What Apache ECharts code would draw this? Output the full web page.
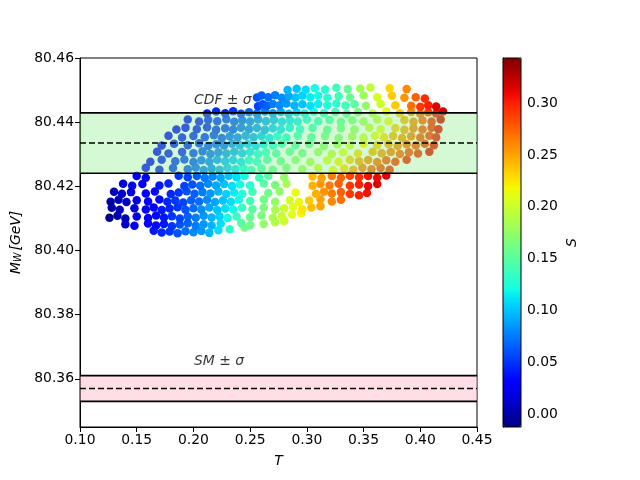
<!DOCTYPE html>
<html lang="en">
<head>
    <meta charset="UTF-8">
    <title>MW vs T</title>
    <script src="https://cdn.jsdelivr.net/npm/echarts@6/dist/echarts.min.js"></script>
    <style>
        html, body { margin: 0; padding: 0; background: #fff; }
        #main { width: 640px; height: 480px; }
    </style>
</head>
<body>
<div id="main"></div>
<script>
// points, row by row from the bottom of the cloud
var tValues = [
    0.165,0.172,0.179,0.186,0.193,0.200,0.207,0.214,0.222,0.232,0.245,
    0.140,0.148,0.160,0.167,0.174,0.181,0.188,0.195,0.202,0.209,0.216,0.224,0.242,0.250,0.262,0.272,0.280,
    0.126,0.133,0.140,0.150,0.160,0.167,0.174,0.181,0.188,0.195,0.202,0.209,0.216,0.223,0.230,0.238,0.250,0.260,0.270,0.278,0.287,0.295,
    0.128,0.135,0.148,0.158,0.165,0.172,0.179,0.186,0.193,0.200,0.207,0.214,0.221,0.228,0.235,0.243,0.252,0.262,0.272,0.280,0.288,0.296,0.304,0.312,
    0.127,0.134,0.141,0.150,0.160,0.170,0.177,0.184,0.191,0.198,0.205,0.212,0.219,0.226,0.233,0.240,0.250,0.262,0.272,0.285,0.293,0.302,0.312,0.322,0.330,
    0.130,0.137,0.145,0.158,0.166,0.180,0.187,0.194,0.201,0.208,0.215,0.222,0.229,0.236,0.243,0.252,0.266,0.276,0.290,0.308,0.315,0.322,0.330,0.338,0.346,0.353,
    0.138,0.146,0.155,0.170,0.178,0.192,0.199,0.206,0.213,0.220,0.227,0.234,0.241,0.250,0.262,0.272,0.282,0.305,0.312,0.320,0.328,0.338,0.346,0.354,0.362,
    0.150,0.158,0.187,0.195,0.203,0.210,0.217,0.224,0.231,0.238,0.245,0.258,0.266,0.280,0.305,0.313,0.322,0.330,0.338,0.346,0.354,0.362,0.370,
    0.158,0.170,0.182,0.195,0.202,0.209,0.216,0.223,0.230,0.237,0.244,0.251,0.260,0.270,0.282,0.296,0.310,0.323,0.333,0.341,0.349,0.357,0.365,0.373,
    0.162,0.172,0.184,0.192,0.200,0.207,0.214,0.221,0.228,0.235,0.242,0.249,0.256,0.265,0.277,0.290,0.303,0.318,0.328,0.338,0.346,0.354,0.362,0.370,0.378,0.388,
    0.168,0.178,0.190,0.200,0.208,0.215,0.222,0.229,0.236,0.243,0.250,0.257,0.264,0.273,0.285,0.296,0.310,0.322,0.332,0.345,0.358,0.366,0.374,0.382,0.390,0.398,0.408,
    0.172,0.183,0.195,0.205,0.213,0.220,0.227,0.234,0.241,0.248,0.255,0.262,0.270,0.278,0.290,0.302,0.315,0.327,0.338,0.350,0.362,0.372,0.380,0.388,0.396,0.404,0.412,
    0.178,0.190,0.200,0.210,0.218,0.225,0.232,0.239,0.246,0.253,0.260,0.267,0.274,0.282,0.292,0.304,0.316,0.328,0.340,0.350,0.360,0.368,0.376,0.384,0.392,0.400,0.408,0.414,
    0.185,0.193,0.203,0.212,0.220,0.228,0.235,0.242,0.249,0.256,0.263,0.270,0.277,0.285,0.294,0.305,0.318,0.330,0.342,0.355,0.365,0.378,0.386,0.394,0.402,0.410,0.416,
    0.195,0.205,0.213,0.221,0.229,0.236,0.243,0.250,0.257,0.264,0.271,0.278,0.285,0.292,0.300,0.310,0.320,0.330,0.340,0.350,0.362,0.372,0.386,0.394,0.402,0.410,0.418,
    0.212,0.220,0.228,0.235,0.242,0.249,0.256,0.263,0.270,0.277,0.284,0.291,0.298,0.306,0.315,0.325,0.335,0.345,0.358,0.370,0.382,0.392,0.400,0.407,0.414,0.420,
    0.257,0.261,0.265,0.270,0.276,0.282,0.289,0.296,0.303,0.310,0.318,0.326,0.334,0.342,0.352,0.365,0.378,0.392,0.400,0.407,0.414,
    0.256,0.260,0.266,0.272,0.278,0.284,0.290,0.296,0.303,0.310,0.318,0.328,0.338,0.350,0.362,0.375,0.386,0.396,0.404,
    0.283,0.291,0.299,0.307,0.316,0.326,0.336,0.347,0.356,0.373,0.388
];
var mwValues = [
    80.4062,80.4056,80.4059,80.4054,80.4060,80.4057,80.4061,80.4055,80.4063,80.4066,80.4072,
    80.4082,80.4077,80.4084,80.4078,80.4083,80.4076,80.4081,80.4085,80.4077,80.4082,80.4078,80.4084,80.4086,80.4079,80.4083,80.4088,80.4092,
    80.4102,80.4108,80.4100,80.4106,80.4101,80.4109,80.4103,80.4107,80.4100,80.4106,80.4102,80.4108,80.4103,80.4107,80.4101,80.4106,80.4104,80.4109,80.4102,80.4107,80.4112,80.4116,
    80.4133,80.4127,80.4132,80.4128,80.4134,80.4126,80.4131,80.4135,80.4127,80.4132,80.4128,80.4134,80.4126,80.4131,80.4128,80.4133,80.4129,80.4134,80.4127,80.4132,80.4136,80.4129,80.4134,80.4138,
    80.4152,80.4158,80.4151,80.4157,80.4153,80.4159,80.4152,80.4156,80.4150,80.4157,80.4153,80.4158,80.4151,80.4156,80.4152,80.4158,80.4154,80.4159,80.4152,80.4157,80.4151,80.4156,80.4160,80.4153,80.4158,
    80.4183,80.4177,80.4182,80.4178,80.4184,80.4176,80.4181,80.4185,80.4177,80.4182,80.4178,80.4184,80.4176,80.4181,80.4177,80.4183,80.4179,80.4184,80.4181,80.4177,80.4183,80.4178,80.4182,80.4176,80.4172,80.4179,
    80.4208,80.4202,80.4207,80.4203,80.4209,80.4201,80.4206,80.4202,80.4208,80.4203,80.4207,80.4201,80.4206,80.4203,80.4209,80.4204,80.4208,80.4202,80.4207,80.4203,80.4208,80.4202,80.4206,80.4201,80.4207,
    80.4232,80.4227,80.4233,80.4228,80.4232,80.4226,80.4231,80.4227,80.4233,80.4228,80.4232,80.4227,80.4233,80.4228,80.4231,80.4226,80.4232,80.4227,80.4233,80.4228,80.4232,80.4227,80.4234,
    80.4258,80.4252,80.4257,80.4253,80.4259,80.4251,80.4256,80.4252,80.4258,80.4253,80.4257,80.4251,80.4256,80.4252,80.4258,80.4253,80.4257,80.4251,80.4256,80.4252,80.4258,80.4253,80.4257,80.4252,
    80.4277,80.4283,80.4278,80.4284,80.4276,80.4281,80.4277,80.4283,80.4278,80.4282,80.4276,80.4281,80.4277,80.4283,80.4278,80.4282,80.4276,80.4281,80.4277,80.4283,80.4278,80.4282,80.4276,80.4281,80.4277,80.4283,
    80.4308,80.4302,80.4307,80.4303,80.4309,80.4301,80.4306,80.4302,80.4308,80.4303,80.4307,80.4301,80.4306,80.4302,80.4308,80.4303,80.4307,80.4301,80.4306,80.4302,80.4308,80.4303,80.4307,80.4301,80.4306,80.4302,80.4308,
    80.4327,80.4333,80.4328,80.4334,80.4326,80.4331,80.4327,80.4333,80.4328,80.4332,80.4326,80.4331,80.4327,80.4333,80.4328,80.4332,80.4326,80.4331,80.4327,80.4333,80.4328,80.4332,80.4326,80.4331,80.4327,80.4333,80.4328,
    80.4358,80.4352,80.4357,80.4353,80.4359,80.4351,80.4356,80.4352,80.4358,80.4353,80.4357,80.4351,80.4356,80.4352,80.4358,80.4353,80.4357,80.4351,80.4356,80.4352,80.4358,80.4353,80.4357,80.4351,80.4356,80.4352,80.4358,80.4353,
    80.4377,80.4383,80.4378,80.4384,80.4376,80.4381,80.4377,80.4383,80.4378,80.4382,80.4376,80.4381,80.4377,80.4383,80.4378,80.4382,80.4376,80.4381,80.4377,80.4383,80.4378,80.4382,80.4376,80.4381,80.4377,80.4383,80.4378,
    80.4408,80.4402,80.4407,80.4403,80.4409,80.4401,80.4406,80.4402,80.4408,80.4403,80.4407,80.4401,80.4406,80.4402,80.4408,80.4403,80.4407,80.4401,80.4406,80.4402,80.4408,80.4403,80.4407,80.4401,80.4406,80.4402,80.4408,
    80.4427,80.4433,80.4428,80.4434,80.4426,80.4431,80.4427,80.4433,80.4428,80.4432,80.4426,80.4431,80.4427,80.4433,80.4428,80.4432,80.4426,80.4431,80.4427,80.4433,80.4428,80.4432,80.4426,80.4431,80.4427,80.4433,
    80.4450,80.4456,80.4451,80.4457,80.4453,80.4458,80.4452,80.4456,80.4451,80.4457,80.4453,80.4458,80.4452,80.4456,80.4451,80.4457,80.4453,80.4451,80.4448,80.4453,80.4449,
    80.4477,80.4483,80.4478,80.4484,80.4476,80.4481,80.4477,80.4483,80.4478,80.4482,80.4476,80.4481,80.4477,80.4483,80.4478,80.4482,80.4476,80.4478,80.4474,
    80.4500,80.4504,80.4501,80.4506,80.4502,80.4507,80.4503,80.4505,80.4508,80.4506,80.4503
];
var sValues = [
    0.04,0.045,0.05,0.06,0.07,0.08,0.085,0.095,0.11,0.13,0.16,
    0.01,0.02,0.03,0.035,0.04,0.05,0.06,0.065,0.075,0.085,0.095,0.11,0.15,0.16,0.175,0.19,0.20,
    -0.01,0.00,0.005,0.02,0.03,0.035,0.04,0.05,0.055,0.065,0.075,0.085,0.095,0.105,0.12,0.135,0.155,0.165,0.185,0.20,0.21,0.22,
    0.00,0.005,0.015,0.025,0.03,0.04,0.045,0.05,0.06,0.07,0.08,0.09,0.10,0.11,0.12,0.135,0.15,0.165,0.185,0.20,0.21,0.225,0.24,0.25,
    0.00,0.005,0.01,0.02,0.03,0.035,0.045,0.05,0.055,0.065,0.07,0.08,0.09,0.10,0.11,0.12,0.14,0.16,0.175,0.205,0.215,0.235,0.25,0.26,0.27,
    0.005,0.01,0.02,0.03,0.035,0.045,0.05,0.06,0.065,0.075,0.085,0.095,0.105,0.115,0.125,0.14,0.16,0.175,0.21,0.245,0.255,0.265,0.275,0.29,0.30,0.305,
    0.015,0.02,0.025,0.04,0.045,0.055,0.06,0.07,0.08,0.09,0.10,0.11,0.12,0.13,0.15,0.165,0.185,0.245,0.255,0.265,0.275,0.29,0.30,0.31,0.315,
    0.02,0.025,0.05,0.055,0.065,0.075,0.08,0.09,0.10,0.11,0.12,0.14,0.15,0.175,0.24,0.25,0.265,0.275,0.285,0.295,0.305,0.31,0.315,
    0.03,0.04,0.05,0.06,0.065,0.075,0.08,0.09,0.10,0.11,0.12,0.13,0.14,0.155,0.165,0.18,0.20,0.215,0.23,0.25,0.265,0.275,0.285,0.295,
    0.03,0.04,0.05,0.055,0.06,0.07,0.075,0.085,0.095,0.10,0.11,0.12,0.13,0.14,0.155,0.17,0.185,0.205,0.22,0.235,0.25,0.26,0.27,0.28,0.29,0.30,
    0.03,0.04,0.045,0.055,0.06,0.07,0.075,0.085,0.09,0.10,0.11,0.12,0.13,0.14,0.15,0.16,0.18,0.195,0.21,0.23,0.245,0.255,0.265,0.275,0.285,0.295,0.31,
    0.03,0.04,0.045,0.05,0.06,0.065,0.07,0.08,0.09,0.10,0.105,0.115,0.125,0.135,0.145,0.155,0.17,0.185,0.20,0.22,0.235,0.25,0.26,0.27,0.28,0.29,0.305,
    0.03,0.04,0.045,0.05,0.055,0.06,0.07,0.075,0.085,0.09,0.10,0.11,0.12,0.125,0.135,0.145,0.16,0.17,0.185,0.20,0.215,0.23,0.245,0.255,0.265,0.28,0.29,0.305,
    0.03,0.035,0.04,0.045,0.05,0.055,0.06,0.07,0.075,0.085,0.09,0.10,0.11,0.115,0.125,0.135,0.15,0.16,0.175,0.195,0.21,0.235,0.25,0.265,0.28,0.295,0.31,
    0.035,0.04,0.045,0.05,0.055,0.06,0.065,0.075,0.08,0.09,0.095,0.105,0.11,0.115,0.12,0.13,0.14,0.15,0.165,0.18,0.195,0.215,0.245,0.26,0.275,0.295,0.315,
    0.04,0.045,0.045,0.05,0.055,0.065,0.07,0.075,0.085,0.09,0.10,0.105,0.115,0.12,0.13,0.14,0.15,0.165,0.19,0.21,0.235,0.26,0.275,0.29,0.305,0.32,
    0.055,0.06,0.065,0.075,0.08,0.085,0.095,0.10,0.11,0.115,0.125,0.13,0.14,0.15,0.175,0.20,0.235,0.27,0.29,0.30,0.315,
    0.06,0.065,0.07,0.075,0.08,0.09,0.10,0.105,0.115,0.12,0.13,0.14,0.155,0.18,0.205,0.235,0.255,0.275,0.295,
    0.095,0.10,0.11,0.12,0.13,0.14,0.155,0.18,0.195,0.23,0.26
];

// measured bands: CDF and SM, centre and sigma
var bandCentre = [80.4335, 80.357];
var bandSigma = [0.0094, 0.004];
var bandFill = ['rgba(144,238,144,0.38)', 'rgba(255,192,203,0.5)'];
var bandLabels = ['CDF ± σ', 'SM ± σ'];
var labelT = [0.2005, 0.2005];
var labelMw = [80.4469, 80.3656];

var yTicks = [80.36, 80.38, 80.40, 80.42, 80.44, 80.46];
var sTicks = [0.00, 0.05, 0.10, 0.15, 0.20, 0.25, 0.30];
var sMin = -0.0125, sMax = 0.3435;

// matplotlib jet colormap
function jet(f) {
    function seg(p, x) {
        for (var i = 1; i < p.length; i++) {
            if (x <= p[i][0]) {
                var a = p[i - 1], b = p[i];
                return a[1] + (b[1] - a[1]) * (x - a[0]) / (b[0] - a[0]);
            }
        }
        return p[p.length - 1][1];
    }
    var r = seg([[0, 0], [0.35, 0], [0.66, 1], [0.89, 1], [1, 0.5]], f);
    var g = seg([[0, 0], [0.125, 0], [0.375, 1], [0.64, 1], [0.91, 0], [1, 0]], f);
    var b = seg([[0, 0.5], [0.11, 1], [0.34, 1], [0.65, 0], [1, 0]], f);
    return 'rgb(' + Math.round(r * 255) + ',' + Math.round(g * 255) + ',' + Math.round(b * 255) + ')';
}
var jetColors = [];
for (var k = 0; k <= 40; k++) jetColors.push(jet(k / 40));

var points = [];
for (var i = 0; i < tValues.length; i++) {
    points.push([tValues[i], mwValues[i], sValues[i]]);
}
var bands = bandCentre.map(function (c, j) { return [c - bandSigma[j], c, c + bandSigma[j], j]; });

// band drawn on top of the points: fill, two solid edges, dashed centre
function renderBand(params, api) {
    var lo = api.value(0), mid = api.value(1), hi = api.value(2), j = api.value(3);
    var a = api.coord([0.10, hi]), b = api.coord([0.45, lo]), m = api.coord([0.10, mid]);
    var x0 = a[0], x1 = b[0];
    var ls = { stroke: '#000', lineWidth: 1.6 };
    return {
        type: 'group',
        children: [
            { type: 'rect', shape: { x: x0, y: a[1], width: x1 - x0, height: b[1] - a[1] }, style: { fill: bandFill[j] } },
            { type: 'line', shape: { x1: x0, y1: a[1], x2: x1, y2: a[1] }, style: ls },
            { type: 'line', shape: { x1: x0, y1: b[1], x2: x1, y2: b[1] }, style: ls },
            { type: 'line', shape: { x1: x0, y1: m[1], x2: x1, y2: m[1] }, style: { stroke: '#000', lineWidth: 1.6, lineDash: [6, 3] } }
        ]
    };
}

var font = 'DejaVu Sans';
var chart = echarts.init(document.getElementById('main'), null, { renderer: 'canvas' });

var option = {
    animation: false,
    backgroundColor: '#fff',
    textStyle: { fontFamily: font },
    grid: [
        { left: 80, top: 58, width: 397, height: 369, show: true, borderColor: '#000', borderWidth: 1, backgroundColor: 'transparent' },
        { left: 503, top: 58, width: 18, height: 369, show: false }
    ],
    xAxis: [{
        type: 'value', gridIndex: 0, min: 0.10, max: 0.45, interval: 0.05,
        name: 'T', nameLocation: 'middle', nameGap: 27,
        nameTextStyle: { fontFamily: font, fontSize: 13.9, fontStyle: 'italic', color: '#000' },
        axisLine: { show: true, onZero: false, lineStyle: { color: '#000', width: 1 } },
        axisTick: { show: true, length: 5, lineStyle: { color: '#000' } },
        axisLabel: { color: '#000', fontSize: 13.9, fontFamily: font, margin: 6, formatter: function (v) { return v.toFixed(2); } },
        splitLine: { show: false }
    }, {
        type: 'value', gridIndex: 1, show: false, min: 0, max: 1
    }],
    yAxis: [{
        type: 'value', gridIndex: 0, min: 80.345, max: 80.46,
        name: '{i|M}{s|W}{i|[GeV]}', nameLocation: 'middle', nameGap: 55, nameRotate: 90,
        nameTextStyle: {
            color: '#000',
            rich: {
                i: { fontFamily: font, fontSize: 13.9, fontStyle: 'italic', color: '#000', lineHeight: 18, verticalAlign: 'bottom' },
                s: { fontFamily: font, fontSize: 9.7, fontStyle: 'italic', color: '#000', lineHeight: 14, verticalAlign: 'bottom', padding: [0, 2, 0, 0] }
            }
        },
        axisLine: { show: true, onZero: false, lineStyle: { color: '#000', width: 1 } },
        axisTick: { show: true, length: 5, customValues: yTicks, lineStyle: { color: '#000' } },
        axisLabel: { color: '#000', fontSize: 13.9, fontFamily: font, margin: 6, customValues: yTicks, formatter: function (v) { return v.toFixed(2); } },
        splitLine: { show: false }
    }, {
        type: 'value', gridIndex: 1, position: 'right', min: sMin, max: sMax,
        name: 'S', nameLocation: 'middle', nameGap: 44, nameRotate: 90,
        nameTextStyle: { fontFamily: font, fontSize: 13.9, fontStyle: 'italic', color: '#000' },
        axisLine: { show: true, lineStyle: { color: '#000', width: 1 } },
        axisTick: { show: true, length: 5, customValues: sTicks, lineStyle: { color: '#000' } },
        axisLabel: { color: '#000', fontSize: 13.9, fontFamily: font, margin: 6, customValues: sTicks, formatter: function (v) { return v.toFixed(2); } },
        splitLine: { show: false }
    }],
    visualMap: {
        type: 'continuous', seriesIndex: 0, dimension: 2,
        min: sMin, max: sMax, calculable: false, show: true,
        left: 503, top: 58, itemWidth: 18, itemHeight: 369, padding: 0,
        inRange: { color: jetColors },
        hoverLink: false
    },
    series: [{
        type: 'scatter', xAxisIndex: 0, yAxisIndex: 0, z: 2,
        symbolSize: 8.5, data: points,
        itemStyle: { opacity: 1 },
        silent: true
    }, {
        type: 'custom', xAxisIndex: 0, yAxisIndex: 0, z: 5, silent: true,
        renderItem: renderBand, data: bands,
        encode: { x: -1, y: [0, 2] }
    }, {
        type: 'scatter', xAxisIndex: 0, yAxisIndex: 0, z: 10, symbolSize: 0, silent: true,
        data: bandLabels.map(function (s, j) { return [labelT[j], labelMw[j], s]; }),
        label: {
            show: true, position: 'right', distance: 0,
            formatter: function (p) { return p.value[2]; },
            fontFamily: font, fontSize: 13.9, fontStyle: 'italic', color: '#000'
        }
    }, {
        type: 'scatter', xAxisIndex: 1, yAxisIndex: 1, data: [], silent: true
    }],
    graphic: [{
        type: 'rect', z: 100, silent: true,
        shape: { x: 503, y: 58, width: 18, height: 369 },
        style: { fill: 'none', stroke: '#000', lineWidth: 1 }
    }]
};
chart.setOption(option);
</script>
</body>
</html>
